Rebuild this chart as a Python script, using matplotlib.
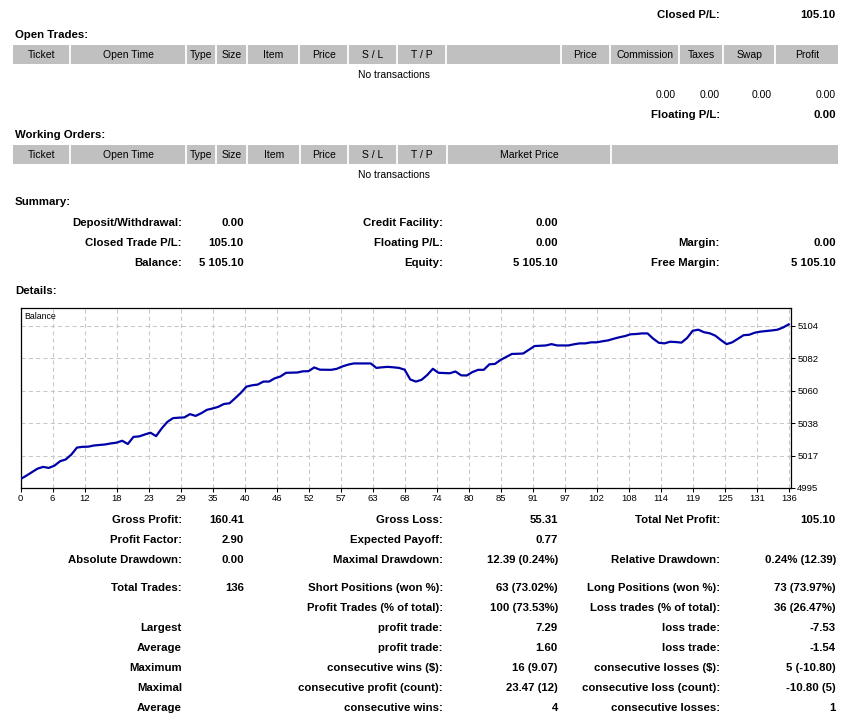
import matplotlib
matplotlib.use("Agg")
import matplotlib.pyplot as plt
import numpy as np

plt.rcParams.update({
    "font.family": ["Liberation Sans", "DejaVu Sans"],
    "font.size": 7.5,
})

W, H = 849, 719

# -- balance curve --
trade_no = [0, 1, 2, 3, 4, 5, 6, 7, 8, 9, 10, 11, 12, 13, 15, 16, 17, 18, 19, 20,
            21, 22, 23, 24, 25, 26, 27, 28, 29, 30, 31, 32, 33, 34, 35, 36, 37, 38,
            39, 40, 41, 42, 43, 44, 45, 46, 47, 49, 50, 51, 52, 53, 55, 56, 57, 58,
            59, 62, 63, 64, 65, 66, 67, 68, 69, 70, 71, 72, 73, 74, 76, 77, 78, 79,
            80, 81, 82, 83, 84, 85, 86, 87, 88, 89, 90, 91, 93, 94, 95, 97, 98, 99,
            100, 101, 102, 103, 104, 105, 106, 107, 108, 109, 110, 111, 112, 113,
            114, 115, 116, 117, 118, 119, 120, 121, 122, 123, 124, 125, 126, 127,
            128, 129, 130, 131, 132, 133, 134, 135, 136]
balance = [5001.0, 5003.2, 5005.6, 5008.0, 5009.2, 5008.5, 5010.0, 5013.0, 5014.2,
           5017.5, 5022.2, 5022.7, 5022.8, 5023.6, 5024.3, 5025.0, 5025.5, 5026.8,
           5024.6, 5029.4, 5029.7, 5031.0, 5032.2, 5029.9, 5035.1, 5039.5, 5042.0,
           5042.3, 5042.5, 5044.7, 5043.5, 5045.3, 5047.6, 5048.5, 5049.6, 5051.5,
           5052.0, 5055.4, 5059.0, 5063.2, 5064.1, 5064.6, 5066.6, 5066.6, 5068.8,
           5070.0, 5072.5, 5072.7, 5073.5, 5073.6, 5076.1, 5074.6, 5074.5, 5075.2,
           5076.8, 5078.0, 5078.8, 5078.8, 5075.8, 5076.2, 5076.5, 5076.2, 5075.8,
           5074.6, 5068.0, 5066.6, 5067.8, 5071.0, 5075.2, 5072.5, 5072.2, 5073.4,
           5070.8, 5070.7, 5073.0, 5074.5, 5074.5, 5078.2, 5078.5, 5081.2, 5083.2,
           5085.2, 5085.3, 5085.5, 5088.0, 5090.5, 5090.9, 5091.8, 5090.9, 5090.9,
           5091.7, 5092.3, 5092.3, 5093.0, 5093.0, 5093.7, 5094.3, 5095.4, 5096.4,
           5097.2, 5098.4, 5098.6, 5099.0, 5099.0, 5095.5, 5092.7, 5092.3, 5093.4,
           5093.2, 5092.8, 5095.9, 5100.8, 5101.5, 5099.8, 5099.1, 5097.5, 5094.5,
           5091.8, 5093.0, 5095.4, 5097.8, 5098.1, 5099.5, 5100.2, 5100.6, 5101.0,
           5101.5, 5103.0, 5105.1]
x_tick_labels = ["0", "6", "12", "18", "23", "29", "35", "40", "46", "52", "57", "63",
                 "68", "74", "80", "85", "91", "97", "102", "108", "114", "119", "125",
                 "131", "136"]
y_tick_labels = ["4995", "5017", "5038", "5060", "5082", "5104"]

# -- report tables --
open_cols = ["Ticket", "Open Time", "Type", "Size", "Item", "Price", "S / L", "T / P",
             "", "Price", "Commission", "Taxes", "Swap", "Profit"]
open_edges = [13, 70.5, 186, 216.5, 247.5, 299.5, 348.5, 397.5, 446.5, 561, 610,
              679.5, 723.5, 775.5, 838]
work_cols = ["Ticket", "Open Time", "Type", "Size", "Item", "Price", "S / L", "T / P",
             "Market Price", ""]
work_edges = [13, 70.5, 186, 216.5, 247.5, 300, 348.5, 397.5, 447, 611, 838]

summary_rows = [
    ("Deposit/Withdrawal:", "0.00", "Credit Facility:", "0.00", "", ""),
    ("Closed Trade P/L:", "105.10", "Floating P/L:", "0.00", "Margin:", "0.00"),
    ("Balance:", "5 105.10", "Equity:", "5 105.10", "Free Margin:", "5 105.10"),
]
summary_y = [223, 243, 263]

stats_rows = [
    ("Gross Profit:", "160.41", "Gross Loss:", "55.31", "Total Net Profit:", "105.10"),
    ("Profit Factor:", "2.90", "Expected Payoff:", "0.77", "", ""),
    ("Absolute Drawdown:", "0.00", "Maximal Drawdown:", "12.39 (0.24%)",
     "Relative Drawdown:", "0.24% (12.39)"),
    ("Total Trades:", "136", "Short Positions (won %):", "63 (73.02%)",
     "Long Positions (won %):", "73 (73.97%)"),
    ("", "", "Profit Trades (% of total):", "100 (73.53%)",
     "Loss trades (% of total):", "36 (26.47%)"),
    ("Largest", "", "profit trade:", "7.29", "loss trade:", "-7.53"),
    ("Average", "", "profit trade:", "1.60", "loss trade:", "-1.54"),
    ("Maximum", "", "consecutive wins ($):", "16 (9.07)",
     "consecutive losses ($):", "5 (-10.80)"),
    ("Maximal", "", "consecutive profit (count):", "23.47 (12)",
     "consecutive loss (count):", "-10.80 (5)"),
    ("Average", "", "consecutive wins:", "4", "consecutive losses:", "1"),
]
stats_y = [520, 540, 560, 588, 608, 628, 648, 668, 688, 708]

LABEL_X = [182, 443, 720]
VALUE_X = [244, 558, 836]
BOLD = 8.2
NORM = 7.5
HEAD_GRAY = "#C0C0C0"

fig = plt.figure(figsize=(W / 100, H / 100), dpi=100)
fig.patch.set_facecolor("white")

page = fig.add_axes([0, 0, 1, 1])
page.set_xlim(0, W)
page.set_ylim(H, 0)
page.axis("off")


def bold(x, y, s, ha="left"):
    page.text(x, y, s, fontsize=BOLD, fontweight="bold", ha=ha, va="center",
              color="black")


def header_row(y0, y1, edges, cols):
    page.add_patch(plt.Rectangle((edges[0], y0), edges[-1] - edges[0], y1 - y0,
                                 facecolor=HEAD_GRAY, edgecolor="none"))
    for e in edges[1:-1]:
        page.plot([e, e], [y0, y1], color="white", lw=1.3)
    for i, c in enumerate(cols):
        if c:
            page.text((edges[i] + edges[i + 1]) / 2, (y0 + y1) / 2 + 0.5, c,
                      fontsize=NORM, ha="center", va="center", color="black")


def stat_block(rows, ys):
    for row, y in zip(rows, ys):
        for k in range(3):
            lab, val = row[2 * k], row[2 * k + 1]
            if lab:
                bold(LABEL_X[k], y, lab, ha="right")
            if val:
                bold(VALUE_X[k], y, val, ha="right")


# top: closed P/L
bold(720, 15, "Closed P/L:", ha="right")
bold(836, 15, "105.10", ha="right")

# open trades
bold(15, 35, "Open Trades:")
header_row(45, 64, open_edges, open_cols)
page.text(394, 75, "No transactions", fontsize=NORM, ha="center", va="center")
for x in [676, 720, 772, 836]:
    page.text(x, 95, "0.00", fontsize=NORM, ha="right", va="center")
bold(720, 115, "Floating P/L:", ha="right")
bold(836, 115, "0.00", ha="right")

# working orders
bold(15, 135, "Working Orders:")
header_row(145, 164, work_edges, work_cols)
page.text(394, 175, "No transactions", fontsize=NORM, ha="center", va="center")

# summary
bold(15, 202, "Summary:")
stat_block(summary_rows, summary_y)

bold(15, 291, "Details:")

# -- balance chart --
left, right, top, bottom = 20.5, 791, 308, 488
ax = fig.add_axes([left / W, 1 - bottom / H, (right - left) / W, (bottom - top) / H])
ax.set_xlim(0, 136.4)
ax.set_ylim(4995, 5116.1)
ax.plot(trade_no, balance, color="#0000A8", lw=1.6, solid_joinstyle="round", zorder=3)

ax.set_xticks(np.linspace(0, 136, len(x_tick_labels)))
ax.set_xticklabels(x_tick_labels)
ax.set_yticks(np.linspace(4995, 5104, len(y_tick_labels)))
ax.set_yticklabels(y_tick_labels)
ax.yaxis.tick_right()
ax.tick_params(axis="both", direction="out", length=3, width=0.75, labelsize=6.8,
               pad=1.5, colors="black")
ax.grid(True, color="#C8C8C8", lw=0.75, ls=(0, (4, 3)), zorder=1)
for sp in ax.spines.values():
    sp.set_linewidth(0.9)
    sp.set_color("black")
ax.text(0.005, 0.95, "Balance", transform=ax.transAxes, fontsize=6.3,
        ha="left", va="center", color="black")

# statistics
stat_block(stats_rows, stats_y)

fig.savefig("out.png", dpi=100)
